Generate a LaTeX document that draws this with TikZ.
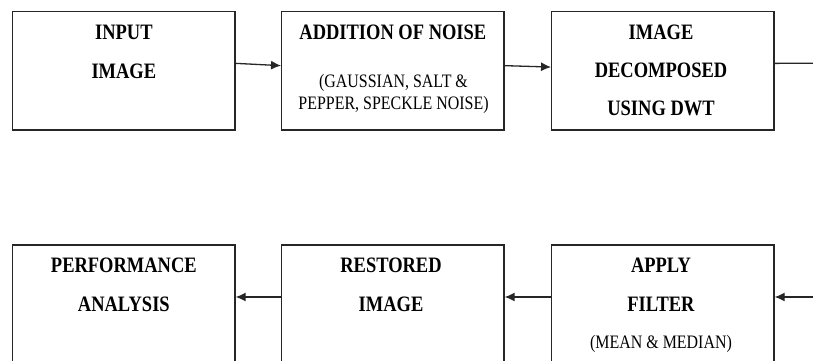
\documentclass[tikz,border=0pt]{standalone}
\usepackage{fontspec}
\setmainfont{Liberation Serif}[FakeStretch=0.84]
\usetikzlibrary{arrows.meta}
\tikzset{
  blk/.style={draw=black!85, line width=1.3pt, rectangle, inner sep=0pt,
    minimum width=222.3pt},
  toprow/.style={blk, minimum height=118.3pt},
  botrow/.style={blk, minimum height=130pt},
  big/.style={anchor=base, inner sep=0pt, font=\fontsize{22}{22}\selectfont\bfseries},
  small/.style={anchor=base, inner sep=0pt, font=\fontsize{19}{19}\selectfont},
  conn/.style={draw=black!85, line width=1.3pt},
  arr/.style={conn, -{Latex[length=10pt,width=9pt]}}
}
\begin{document}
\begin{tikzpicture}[x=1pt,y=-1pt]
\useasboundingbox (0,0) rectangle (813,360);
\clip (0,0) rectangle (813,360);
% top row boxes
\node[toprow] (b1) at (123.85,70.85) {};
\node[toprow] (b2) at (392.85,70.85) {};
\node[toprow] (b3) at (662.85,70.85) {};
% bottom row boxes
\node[botrow] (b4) at (123.85,310) {};
\node[botrow] (b5) at (392.85,310) {};
\node[botrow] (b6) at (662.85,310) {};
% texts
\node[big] (t1a) at (123.85,39) {INPUT};
\node[big] (t1b) at (123.85,78) {IMAGE};
\node[big] (t2a) at (392.85,39) {ADDITION OF NOISE};
\node[small] (t2b) at (393.5,87) {(GAUSSIAN, SALT \&};
\node[small] (t2c) at (393.5,109) {PEPPER, SPECKLE NOISE)};
\node[big] (t3a) at (661,39) {IMAGE};
\node[big] (t3b) at (661,77) {DECOMPOSED};
\node[big] (t3c) at (661,115) {USING DWT};
\node[big] (t4a) at (123.85,272.7) {PERFORMANCE};
\node[big] (t4b) at (123.85,311.7) {ANALYSIS};
\node[big] (t5a) at (391,272.7) {RESTORED};
\node[big] (t5b) at (391,311.7) {IMAGE};
\node[big] (t6a) at (661,272.7) {APPLY};
\node[big] (t6b) at (661,311.7) {FILTER};
\node[small] (t6c) at (661,348) {(MEAN \& MEDIAN)};
% free ends at the right edge
\coordinate (r1) at (813,63.3);
\coordinate (r2) at (813,297);
% connectors
\draw[arr] ([yshift=7.5pt]b1.east) -- ([yshift=5.2pt]b2.west);
\draw[arr] ([yshift=5.2pt]b2.east) -- ([yshift=3.8pt]b3.west);
\draw[conn] ([yshift=7.5pt]b3.east) -- (r1);
\draw[arr] (r2) -- ([yshift=13pt]b6.east);
\draw[arr] ([yshift=13pt]b6.west) -- ([yshift=13pt]b5.east);
\draw[arr] ([yshift=13pt]b5.west) -- ([yshift=13pt]b4.east);
\end{tikzpicture}
\end{document}
